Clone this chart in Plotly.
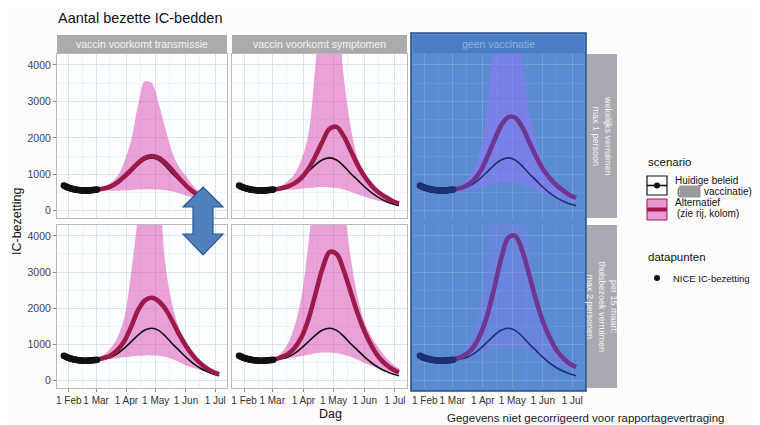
import plotly.graph_objects as go
import pandas as pd

# page body has an 8px margin: figure occupies page pixels 8..760 x 8..425
OFF = 8
W, H = 752, 417

# ---------------- data ----------------
obs_dates = pd.date_range("2021-01-27", "2021-03-02").strftime("%Y-%m-%d").tolist()
obs_values = [690, 680, 665, 650, 640, 630, 620, 610, 605, 600, 590, 585, 580, 575, 570,
              568, 565, 560, 558, 555, 553, 552, 552, 550, 552, 555, 558, 560, 563, 565,
              568, 570, 573, 576, 580]

proj_dates = ["2021-03-02", "2021-03-09", "2021-03-16", "2021-03-23", "2021-03-30",
              "2021-04-06", "2021-04-13", "2021-04-20", "2021-04-27", "2021-05-04",
              "2021-05-11", "2021-05-18", "2021-05-25", "2021-06-01", "2021-06-08",
              "2021-06-15", "2021-06-22", "2021-06-29", "2021-07-05"]

baseline = [580, 600, 650, 750, 900, 1080, 1260, 1400, 1450, 1390, 1230, 1020, 840, 650, 490, 360, 260, 185, 140]

alt_r1c1 = [580, 610, 670, 780, 940, 1120, 1310, 1450, 1500, 1450, 1310, 1110, 890, 690, 530, 400, 300, 220, 170]
alt_r1c2 = [580, 610, 660, 750, 900, 1150, 1500, 1900, 2250, 2300, 2050, 1650, 1250, 930, 680, 500, 370, 260, 200]
alt_r1c3 = [580, 620, 700, 850, 1100, 1500, 1950, 2350, 2570, 2550, 2300, 1900, 1500, 1150, 900, 700, 550, 420, 350]
alt_r2c1 = [580, 630, 700, 850, 1100, 1500, 1950, 2220, 2290, 2200, 1980, 1650, 1280, 960, 700, 500, 350, 240, 180]
alt_r2c2 = [580, 640, 730, 900, 1200, 1700, 2400, 3100, 3550, 3500, 3050, 2450, 1850, 1350, 950, 650, 450, 310, 230]
alt_r2c3 = [580, 650, 750, 950, 1300, 1850, 2600, 3400, 3950, 4000, 3600, 2950, 2250, 1650, 1200, 850, 620, 460, 380]

up_r1c1 = [580, 650, 760, 950, 1350, 1950, 2900, 3550, 3500, 2950, 2250, 1600, 1200, 950, 700, 520, 400, 310, 260]
lo_r1c1 = [580, 560, 550, 550, 560, 570, 580, 590, 590, 580, 560, 530, 480, 420, 360, 300, 250, 200, 170]
up_r1c2 = [580, 660, 800, 1000, 1400, 2100, 4000, 6000, 6500, 5800, 3700, 2300, 1450, 1050, 780, 570, 420, 290, 220]
lo_r1c2 = [580, 570, 570, 580, 600, 620, 640, 650, 640, 620, 580, 520, 450, 380, 320, 270, 220, 180, 150]
up_r1c3 = [580, 680, 850, 1150, 1700, 3000, 5000, 7000, 7500, 6500, 4200, 2800, 1900, 1350, 1000, 750, 580, 460, 400]
lo_r1c3 = [580, 575, 580, 600, 640, 690, 740, 780, 790, 770, 720, 650, 570, 490, 420, 360, 300, 250, 220]
up_r2c1 = [580, 720, 900, 1200, 1750, 3000, 4600, 6500, 6800, 5600, 3200, 2100, 1450, 1100, 800, 560, 400, 270, 200]
lo_r2c1 = [580, 600, 610, 630, 650, 670, 690, 700, 700, 690, 660, 600, 520, 430, 360, 300, 240, 190, 160]
up_r2c2 = [580, 740, 1000, 1500, 2300, 3800, 5600, 7500, 8000, 7000, 5000, 3400, 2300, 1600, 1200, 900, 650, 450, 340]
lo_r2c2 = [580, 600, 610, 640, 680, 720, 760, 780, 780, 760, 720, 660, 580, 490, 410, 340, 280, 230, 190]
up_r2c3 = [580, 760, 1000, 1450, 2200, 3700, 6000, 8500, 9000, 8000, 5600, 3800, 2600, 1800, 1300, 950, 720, 560, 480]
lo_r2c3 = [580, 610, 630, 680, 740, 800, 860, 900, 910, 890, 840, 760, 670, 580, 500, 430, 370, 320, 280]

alts = [alt_r1c1, alt_r1c2, alt_r1c3, alt_r2c1, alt_r2c2, alt_r2c3]
uppers = [up_r1c1, up_r1c2, up_r1c3, up_r2c1, up_r2c2, up_r2c3]
lowers = [lo_r1c1, lo_r1c2, lo_r1c3, lo_r2c1, lo_r2c2, lo_r2c3]

col_labels = ["vaccin voorkomt transmissie", "vaccin voorkomt symptomen", "geen vaccinatie"]
row_labels = ["wekelijks verruimen<br>max 1 persoon",
              "per 15 maart:<br>thuisbezoek verruimen<br>max 2 personen"]

x_tick_vals = ["2021-02-01", "2021-03-01", "2021-04-01", "2021-05-01", "2021-06-01", "2021-07-01"]
x_tick_text = ["1 Feb", "1 Mar", "1 Apr", "1 May", "1 Jun", "1 Jul"]
x_minor_vals = ["2021-01-15", "2021-02-15", "2021-03-15", "2021-04-15", "2021-05-15", "2021-06-15", "2021-07-15"]
y_tick_vals = [0, 1000, 2000, 3000, 4000]
y_minor_vals = [500, 1500, 2500, 3500]

# ---------------- styles ----------------
FONT = "Liberation Sans, Arial, sans-serif"
PINK = "rgba(215,70,175,0.50)"
RED = "#9b1a4a"
GRID = "#dce3ea"
GRID_MINOR = "#eef2f6"
STRIP = "#ababab"

# colours of the third column, which sits under a blue highlight box
BLUE_PANEL = "#5d8fd6"
BLUE_STRIP = "#4a7ec4"
BLUE_RIBBON = ["rgba(140,120,245,0.60)", "rgba(140,120,245,0.30)"]
BLUE_RED = "#6f3792"
BLUE_BLACK = "#1b3170"

col_px = [(57, 227), (232, 407), (413, 584)]
row_px = [(54, 218), (225, 388)]


def px_x(p):
    return (p - OFF) / W


def px_y(p):
    return 1 - (p - OFF) / H


fig = go.Figure()

for i in range(6):
    r, c = divmod(i, 3)
    n = i + 1
    xa = "x" if n == 1 else f"x{n}"
    ya = "y" if n == 1 else f"y{n}"
    hl = (c == 2)
    fig.add_trace(go.Scatter(x=proj_dates, y=lowers[i], mode="lines", line=dict(width=0, shape="spline"),
                             xaxis=xa, yaxis=ya, showlegend=False, hoverinfo="skip"))
    fig.add_trace(go.Scatter(x=proj_dates, y=uppers[i], mode="lines", line=dict(width=0, shape="spline"),
                             fill="tonexty", fillcolor=BLUE_RIBBON[r] if hl else PINK,
                             xaxis=xa, yaxis=ya, showlegend=False, hoverinfo="skip"))
    fig.add_trace(go.Scatter(x=proj_dates, y=baseline, mode="lines",
                             line=dict(color=BLUE_BLACK if hl else "#111111", width=1.6, shape="spline"),
                             xaxis=xa, yaxis=ya, showlegend=False))
    fig.add_trace(go.Scatter(x=proj_dates, y=alts[i], mode="lines",
                             line=dict(color=BLUE_RED if hl else RED, width=4.6, shape="spline"),
                             xaxis=xa, yaxis=ya, showlegend=False))
    fig.add_trace(go.Scatter(x=obs_dates, y=obs_values, mode="markers",
                             marker=dict(color=BLUE_BLACK if hl else "#111111", size=6.5),
                             xaxis=xa, yaxis=ya, showlegend=False))

    x0, x1 = col_px[c]
    y0, y1 = row_px[r]
    gcol = "rgba(255,255,255,0.16)" if hl else GRID
    gmin = "rgba(255,255,255,0.08)" if hl else GRID_MINOR
    axis_common = dict(showline=True, mirror=True, linecolor="#5a8bd0" if hl else "#b9b9b9", linewidth=1,
                       zeroline=False, gridcolor=gcol, gridwidth=0.8)
    fig.update_layout(**{
        ("xaxis" if n == 1 else f"xaxis{n}"): dict(
            domain=[px_x(x0), px_x(x1)], anchor=ya, type="date",
            range=["2021-01-20", "2021-07-13"],
            tickmode="array", tickvals=x_tick_vals, ticktext=x_tick_text, tickangle=0,
            showticklabels=(r == 1), ticks="outside" if r == 1 else "", ticklen=3,
            tickcolor="#888888",
            tickfont=dict(family=FONT, size=10, color="#333333"),
            minor=dict(tickmode="array", tickvals=x_minor_vals, showgrid=True,
                       gridcolor=gmin, gridwidth=0.6),
            **axis_common),
        ("yaxis" if n == 1 else f"yaxis{n}"): dict(
            domain=[px_y(y1), px_y(y0)], anchor=xa,
            range=[-200, 4300],
            tickmode="array", tickvals=y_tick_vals,
            showticklabels=(c == 0), ticks="outside" if c == 0 else "", ticklen=3,
            tickcolor="#888888",
            tickfont=dict(family=FONT, size=10.5, color="#444444"),
            minor=dict(tickmode="array", tickvals=y_minor_vals, showgrid=True,
                       gridcolor=gmin, gridwidth=0.6),
            **axis_common),
    })

shapes = []
annotations = []


def ann(text, x, y, size=10, xanchor="left", color="#111111", **kw):
    annotations.append(dict(text=text, xref="paper", yref="paper", x=px_x(x), y=px_y(y),
                            xanchor=xanchor, yanchor="middle", showarrow=False,
                            font=dict(family=FONT, size=size, color=color), **kw))


# blue panel background for the third column (below traces and gridlines)
for r in range(2):
    y0, y1 = row_px[r]
    shapes.append(dict(type="rect", xref="paper", yref="paper", x0=px_x(col_px[2][0]), x1=px_x(col_px[2][1]),
                       y0=px_y(y1), y1=px_y(y0), fillcolor=BLUE_PANEL, line=dict(width=0), layer="below"))
# blue band between the panels / body of the highlight box
shapes.append(dict(type="rect", xref="paper", yref="paper", x0=px_x(411), x1=px_x(586),
                   y0=px_y(391), y1=px_y(33), fillcolor="#5a8bd0", line=dict(width=0), layer="below"))

# top strips
for c in range(3):
    x0, x1 = col_px[c]
    shapes.append(dict(type="rect", xref="paper", yref="paper", x0=px_x(x0), x1=px_x(x1),
                       y0=px_y(53), y1=px_y(35), fillcolor=BLUE_STRIP if c == 2 else STRIP,
                       line=dict(width=0), layer="below"))
    ann(col_labels[c], (x0 + x1) / 2, 44, size=10.5, xanchor="center",
        color="#f4f4f4" if c < 2 else "#8fb0dc")

# right strips
for r in range(2):
    y0, y1 = row_px[r]
    shapes.append(dict(type="rect", xref="paper", yref="paper", x0=px_x(587), x1=px_x(617),
                       y0=px_y(y1), y1=px_y(y0), fillcolor="#a9a9b1", line=dict(width=0), layer="below"))
    ann(row_labels[r], 602, (y0 + y1) / 2, size=9, xanchor="center", color="#f4f4f4", textangle=90)

# border of the highlight box
shapes.append(dict(type="rect", xref="paper", yref="paper", x0=px_x(411), x1=px_x(586),
                   y0=px_y(391), y1=px_y(33), fillcolor="rgba(0,0,0,0)",
                   line=dict(color="#2a4f8a", width=1.6), layer="above"))

# double arrow
arrow_pts = [(203, 187), (223, 207), (213, 207), (213, 234), (223, 234), (203, 255),
             (183, 234), (193, 234), (193, 207), (183, 207)]
path = "M " + " L ".join(f"{px_x(a):.5f},{px_y(b):.5f}" for a, b in arrow_pts) + " Z"
shapes.append(dict(type="path", xref="paper", yref="paper", path=path,
                   fillcolor="#4f81bd", line=dict(color="#2f5597", width=1.2), layer="above"))

# legend keys
shapes.append(dict(type="rect", xref="paper", yref="paper", x0=px_x(647), x1=px_x(667),
                   y0=px_y(195), y1=px_y(176), fillcolor="white", line=dict(color="#111111", width=1.2)))
shapes.append(dict(type="line", xref="paper", yref="paper", x0=px_x(647), x1=px_x(667),
                   y0=px_y(185.5), y1=px_y(185.5), line=dict(color="#111111", width=1.6)))
shapes.append(dict(type="circle", xref="paper", yref="paper", x0=px_x(654), x1=px_x(660),
                   y0=px_y(188.5), y1=px_y(182.5), fillcolor="#111111", line=dict(width=0)))
shapes.append(dict(type="rect", xref="paper", yref="paper", x0=px_x(647), x1=px_x(667),
                   y0=px_y(220), y1=px_y(199), fillcolor="rgba(215,70,175,0.55)",
                   line=dict(color=RED, width=1)))
shapes.append(dict(type="line", xref="paper", yref="paper", x0=px_x(647), x1=px_x(667),
                   y0=px_y(209.5), y1=px_y(209.5), line=dict(color=RED, width=4)))
shapes.append(dict(type="circle", xref="paper", yref="paper", x0=px_x(654), x1=px_x(660),
                   y0=px_y(281), y1=px_y(275), fillcolor="#111111", line=dict(width=0)))

ann("Aantal bezette IC-bedden", 56, 18, size=14.5)
ann("scenario", 646, 162, size=11.5)
ann("Huidige beleid", 673, 180, size=10)
ann("(", 675, 192, size=10)
ann("geen", 679, 192, size=8, color="#9a9a9a", bgcolor="#9a9a9a")
ann("vaccinatie)", 702, 192, size=10)
ann("Alternatief", 673, 202, size=10)
ann("(zie rij, kolom)", 675, 213, size=10)
ann("datapunten", 646, 257, size=11.5)
ann("NICE IC-bezetting", 671, 278, size=9.5)
ann("IC-bezetting", 17, 222, size=12.5, xanchor="center", textangle=-90)
ann("Dag", 330, 414, size=12.5, xanchor="center")
ann("Gegevens niet gecorrigeerd voor rapportagevertraging", 585, 418, size=11.5, xanchor="center",
    color="#1a1a1a")

fig.update_layout(width=W, height=H, margin=dict(l=0, r=0, t=0, b=0),
                  paper_bgcolor="#fcfcfc", plot_bgcolor="#fbfdfe",
                  shapes=shapes, annotations=annotations, showlegend=False,
                  font=dict(family=FONT))

fig.write_html("out.html")
